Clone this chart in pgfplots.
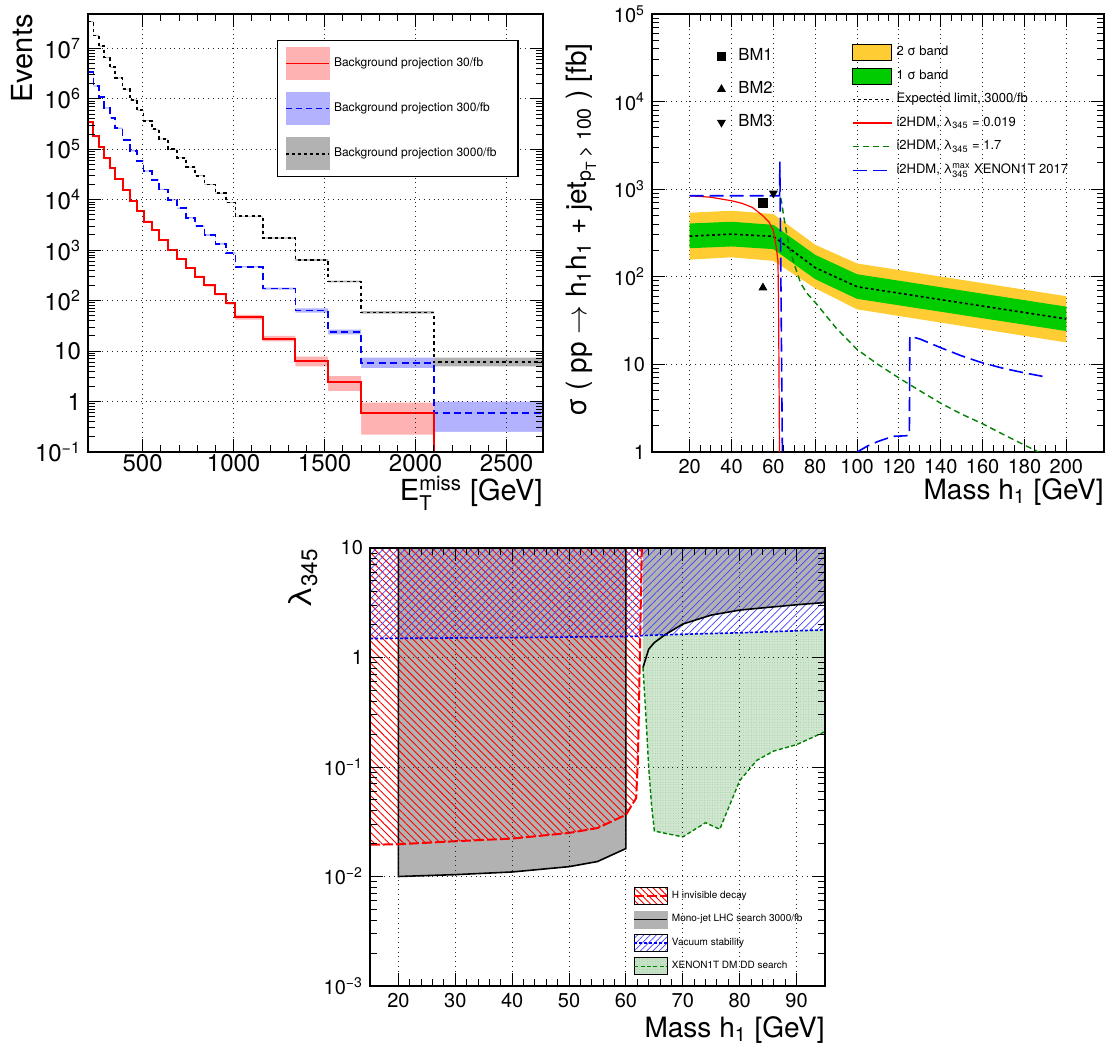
\documentclass[border=0pt]{standalone}
\usepackage{amsmath}
\usepackage{fontspec}
\setmainfont{TeX Gyre Heros}
\usepackage{pgfplots}
\usepackage{pgfplotstable}
\pgfplotsset{compat=1.18}
\usetikzlibrary{patterns,patterns.meta}

\definecolor{rootred}{RGB}{255,0,0}
\definecolor{rootblue}{RGB}{0,0,255}
\definecolor{bandred}{RGB}{255,178,178}
\definecolor{bandblue}{RGB}{178,178,255}
\definecolor{bandgray}{RGB}{178,178,178}
\definecolor{yellowband}{RGB}{255,204,51}
\definecolor{greenband}{RGB}{0,204,0}
\definecolor{darkgreen}{RGB}{0,128,0}
\definecolor{xegreen}{RGB}{200,226,200}
\definecolor{monogray}{RGB}{178,178,178}

% ---- top-left histograms: bin low edge, value, band low, band high
\pgfplotstableread{
x y lo hi
200 340000 326000 354000
230 180000 172800 187200
260 110000 105600 114400
290 66000 63400 68600
320 42000 40300 43700
350 26000 25000 27000
390 15500 14900 16100
430 9400 9020 9780
470 5900 5660 6140
505 3700 3550 3850
550 2500 2400 2600
590 1600 1536 1664
640 1000 960 1040
690 680 653 707
740 440 422 458
790 300 288 312
840 200 190 210
900 134 127 141
960 88 83 93
1010 47 42 52
1160 17.4 15.5 20
1340 6.4 5.0 7.8
1520 2.4 1.6 3.2
1700 0.58 0.22 0.95
2100 0.1 0.02 0.05
2700 0.1 0.02 0.05
}\redtab
\pgfplotstableread{
x y lo hi
200 3400000 3300000 3500000
230 1800000 1750000 1850000
260 1100000 1070000 1130000
290 660000 640000 680000
320 420000 408000 432000
350 260000 252000 268000
390 155000 150000 160000
430 94000 91000 97000
470 59000 57200 60800
505 37000 35900 38100
550 25000 24200 25800
590 16000 15500 16500
640 10000 9700 10300
690 6800 6600 7000
740 4400 4270 4530
790 3000 2910 3090
840 2000 1930 2070
900 1340 1290 1390
960 880 846 914
1010 470 455 485
1160 174 166 182
1340 64 58 70
1520 24 21.5 26.5
1700 5.9 4.6 7.4
2100 0.6 0.25 1.0
2700 0.6 0.25 1.0
}\bluetab
\pgfplotstableread{
x y lo hi
200 34000000 33300000 34700000
230 18000000 17600000 18400000
260 11000000 10800000 11200000
290 6600000 6470000 6730000
320 4200000 4120000 4280000
350 2600000 2550000 2650000
390 1550000 1520000 1580000
430 940000 920000 960000
470 590000 578000 602000
505 370000 363000 377000
550 250000 245000 255000
590 160000 157000 163000
640 100000 98000 102000
690 68000 66600 69400
740 44000 43100 44900
790 30000 29400 30600
840 20000 19600 20400
900 13400 13100 13700
960 8800 8600 9000
1010 4700 4600 4800
1160 1740 1690 1790
1340 640 617 663
1520 240 230 250
1700 58 55 62
2100 6.0 5.0 7.4
2700 6.0 5.0 7.4
}\blacktab

% ---- top-right expected limit
\pgfplotstableread{
x exp
20 291
40 307
60 289
80 127
100 77
200 33
}\exptab

\pgfplotsset{rootaxis/.style={
  scale only axis,
  axis line style={line width=0.7pt},
  every tick/.style={black, line width=0.5pt},
  major tick length=6.5pt, minor tick length=3.5pt,
  tick align=inside, xtick pos=both, ytick pos=both,
  xmajorgrids, ymajorgrids,
  major grid style={dotted, line width=0.5pt, black!85},
  /pgf/number format/assume math mode=true,
  /pgf/number format/1000 sep={},
  log origin y=infty,
}}

\begin{document}
\begin{tikzpicture}
\useasboundingbox (0,0) rectangle (556.5pt,525pt);

% =================== TOP LEFT ===================
\begin{axis}[rootaxis, axis on top,
  at={(44pt,299pt)}, anchor=south west, width=227.5pt, height=219pt,
  xmin=200, xmax=2700, ymode=log, ymin=0.1, ymax=4.8e7,
  xtick={500,1000,1500,2000,2500},
  xticklabels={500,1000,1500,2000,2500},
  minor x tick num=4,
  ytick={0.1,1,10,100,1000,10000,100000,1000000,10000000},
  yticklabels={10\textsuperscript{−1},1,10,10\textsuperscript{2},10\textsuperscript{3},10\textsuperscript{4},10\textsuperscript{5},10\textsuperscript{6},10\textsuperscript{7}},
  tick label style={font=\fontsize{12}{14}\selectfont},
  xticklabel style={yshift=2.5pt},
  xlabel={E$^{\text{miss}}_{\text{T}}$ [GeV]}, ylabel={Events},
  label style={font=\fontsize{14.5}{17}\selectfont, inner sep=0pt},
  xlabel style={at={(rel axis cs:1,-0.094)}, anchor=east},
  ylabel style={at={(rel axis cs:-0.145,1)}, anchor=east},
  legend style={at={(rel axis cs:0.415,0.94)}, anchor=north west, draw=black,
    line width=0.6pt, fill=white, font=\fontsize{6}{7}\selectfont,
    inner xsep=4pt, inner ysep=3pt, row sep=6pt},
  legend cell align=left,
]
% bands: fill up to the band top, then blank out below the band bottom
\addplot[const plot, fill=bandgray, draw=none, forget plot] table[x=x,y=hi]{\blacktab} \closedcycle;
\addplot[const plot, fill=white, draw=none, forget plot] table[x=x,y=lo]{\blacktab} \closedcycle;
\addplot[const plot, fill=bandblue, draw=none, forget plot] table[x=x,y=hi]{\bluetab} \closedcycle;
\addplot[const plot, fill=white, draw=none, forget plot] table[x=x,y=lo]{\bluetab} \closedcycle;
\addplot[const plot, fill=bandred, draw=none, forget plot] table[x=x,y=hi]{\redtab} \closedcycle;
\addplot[const plot, fill=white, draw=none, forget plot] table[x=x,y=lo]{\redtab} \closedcycle;
% lines
\addplot[const plot, black, line width=0.9pt, dash pattern=on 1.6pt off 1.6pt, forget plot] table[x=x,y=y]{\blacktab};
\addplot[const plot, rootblue, line width=0.9pt, dash pattern=on 3.5pt off 2.2pt, forget plot] table[x=x,y=y]{\bluetab};
\addplot[const plot, rootred, line width=1pt, forget plot] table[x=x,y=y]{\redtab};
% legend
\addlegendimage{legend image code/.code={\fill[bandred] (0pt,-8pt) rectangle (21.5pt,8pt); \draw[rootred, line width=0.8pt] (0pt,0pt) -- (21.5pt,0pt);}}
\addlegendentry{\makebox[86pt][l]{Background projection 30/fb}}
\addlegendimage{legend image code/.code={\fill[bandblue] (0pt,-8pt) rectangle (21.5pt,8pt); \draw[rootblue, line width=0.8pt, dash pattern=on 3pt off 2pt] (0pt,0pt) -- (21.5pt,0pt);}}
\addlegendentry{\makebox[86pt][l]{Background projection 300/fb}}
\addlegendimage{legend image code/.code={\fill[bandgray] (0pt,-8pt) rectangle (21.5pt,8pt); \draw[black, line width=0.8pt, dash pattern=on 1.5pt off 1.5pt] (0pt,0pt) -- (21.5pt,0pt);}}
\addlegendentry{\makebox[86pt][l]{Background projection 3000/fb}}
\end{axis}

% =================== TOP RIGHT ===================
\begin{axis}[rootaxis,
  at={(326pt,299pt)}, anchor=south west, width=226pt, height=219pt,
  xmin=2, xmax=218, ymode=log, ymin=1, ymax=1e5,
  xtick={20,40,60,80,100,120,140,160,180,200},
  minor x tick num=3,
  ytick={1,10,100,1000,10000,100000},
  yticklabels={1,10,10\textsuperscript{2},10\textsuperscript{3},10\textsuperscript{4},10\textsuperscript{5}},
  tick label style={font=\fontsize{10}{12}\selectfont},
  xlabel={Mass h\textsubscript{1} [GeV]},
  ylabel={σ ( pp \ensuremath{\rightarrow} h\textsubscript{1}h\textsubscript{1} + jet$_{\text{p}_{\text{T}}\,\text{> 100}}$ ) [fb]},
  label style={font=\fontsize{14}{17}\selectfont, inner sep=0pt},
  xlabel style={at={(rel axis cs:1,-0.091)}, anchor=east},
  ylabel style={at={(rel axis cs:-0.157,0.934)}, anchor=east},
  legend style={at={(rel axis cs:0.441,0.936)}, anchor=north west, draw=none,
    fill=none, font=\fontsize{6.5}{7.5}\selectfont, row sep=1.5pt, inner sep=0pt},
  legend cell align=left,
]
% 2 sigma band (upper edge, then lower edge back)
\addplot[fill=yellowband, draw=none, forget plot] coordinates {
(20,538) (40,568) (60,520) (80,232) (100,142) (200,60)
(200,17.8) (100,42.5) (80,74) (60,152) (40,167) (20,157)};
% 1 sigma band
\addplot[fill=greenband, draw=none, forget plot] coordinates {
(20,406) (40,425) (60,392) (80,178) (100,107) (200,45.6)
(200,24) (100,56) (80,94) (60,207) (40,222) (20,212)};
\addplot[black, line width=0.8pt, dash pattern=on 1.4pt off 1.4pt, forget plot] table[x=x,y=exp]{\exptab};
% i2HDM lambda=1.7
\addplot[darkgreen, line width=0.7pt, dash pattern=on 3pt off 2pt, forget plot] coordinates {
(63.5,800) (64,700) (65,480) (66.4,310) (68,200) (70,139) (73,85) (76,65) (80,51)
(90,26) (100,14.8) (110,10) (120,7.0) (130,5.0) (140,3.6) (150,2.7) (160,2.1)
(170,1.58) (180,1.2) (190,0.91) (200,0.72)};
% i2HDM lambda=0.019
\addplot[rootred, line width=0.6pt, forget plot] coordinates {
(20,842) (30,810) (40,738) (45,690) (50,619) (55,497) (58,420) (60,335) (61.4,216)
(62.2,151) (62.5,40) (62.8,3) (63,0.5)};
% XENON1T max
\addplot[rootblue, line width=0.8pt, dash pattern=on 7pt off 3pt, forget plot] coordinates {
(20,842) (63,842) (63.1,2060) (64.3,1) (64.4,0.5)};
\addplot[rootblue, line width=0.8pt, dash pattern=on 7pt off 3pt, forget plot] coordinates {
(100,1.0) (105,1.17) (110,1.32) (115,1.45) (117,1.51) (123,1.53) (125,1.55) (125.2,21)
(130,19.5) (140,15.5) (150,12.5) (160,10.4) (170,9.0) (180,8.0) (190,7.2)};
% legend
\addlegendimage{legend image code/.code={\fill[yellowband, draw=black, line width=0.5pt] (0pt,-4pt) rectangle (19.6pt,4pt);}}
\addlegendentry{2 σ band}
\addlegendimage{legend image code/.code={\fill[greenband, draw=black, line width=0.5pt] (0pt,-4pt) rectangle (19.6pt,4pt);}}
\addlegendentry{1 σ band}
\addlegendimage{legend image code/.code={\path[draw=none, fill=none] (0pt,-4pt) rectangle (19.6pt,4pt); \draw[black, line width=0.8pt, dash pattern=on 1.4pt off 1.4pt] (0pt,0pt) -- (19.6pt,0pt);}}
\addlegendentry{Expected limit, 3000/fb}
\addlegendimage{legend image code/.code={\path[draw=none, fill=none] (0pt,-4pt) rectangle (19.6pt,4pt); \draw[rootred, line width=0.7pt] (0pt,0pt) -- (19.6pt,0pt);}}
\addlegendentry{i2HDM, λ$_{\text{345}}$ = 0.019}
\addlegendimage{legend image code/.code={\path[draw=none, fill=none] (0pt,-4pt) rectangle (19.6pt,4pt); \draw[darkgreen, line width=0.7pt, dash pattern=on 3pt off 2pt] (0pt,0pt) -- (19.6pt,0pt);}}
\addlegendentry{i2HDM, λ$_{\text{345}}$ = 1.7}
\addlegendimage{legend image code/.code={\path[draw=none, fill=none] (0pt,-4pt) rectangle (19.6pt,4pt); \draw[rootblue, line width=0.8pt, dash pattern=on 7pt off 3pt] (0pt,0pt) -- (19.6pt,0pt);}}
\addlegendentry{i2HDM, λ$^{\text{max}}_{\text{345}}$ XENON1T 2017}
\end{axis}

% BM points with their own legend
\begin{axis}[
  at={(326pt,299pt)}, anchor=south west, width=226pt, height=219pt, scale only axis,
  xmin=2, xmax=218, ymode=log, ymin=1, ymax=1e5, hide axis,
  legend style={at={(rel axis cs:0.124,0.94)}, anchor=north west, draw=none,
    fill=none, font=\fontsize{8.3}{10}\selectfont, row sep=5pt},
  legend cell align=left,
  legend image code/.code={\path[draw=none, fill=none] (0pt,0pt) -- (10pt,0pt); \draw plot coordinates {(3.5pt,0pt)};},
]
\addplot[only marks, black, mark=square*, mark size=2.1pt] coordinates {(55,700)};
\addlegendentry{BM1}
\addplot[only marks, black, mark=triangle*, mark size=2.2pt] coordinates {(55,75)};
\addlegendentry{BM2}
\addplot[only marks, black, mark=triangle*, mark size=2.2pt, mark options={rotate=180}] coordinates {(60,900)};
\addlegendentry{BM3}
\end{axis}

% =================== BOTTOM ===================
\begin{axis}[rootaxis, axis on top,
  at={(185pt,32pt)}, anchor=south west, width=227.5pt, height=219pt,
  xmin=15, xmax=95, ymode=log, ymin=1e-3, ymax=10,
  xtick={20,30,40,50,60,70,80,90},
  minor x tick num=4,
  ytick={0.001,0.01,0.1,1,10},
  yticklabels={10\textsuperscript{−3},10\textsuperscript{−2},10\textsuperscript{−1},1,10},
  tick label style={font=\fontsize{10}{12}\selectfont},
  xlabel={Mass h\textsubscript{1} [GeV]},
  ylabel={λ\textsubscript{345}},
  label style={font=\fontsize{14}{17}\selectfont, inner sep=0pt},
  ylabel style={font=\fontsize{16}{18}\selectfont, at={(rel axis cs:-0.147,1)}, anchor=east},
  xlabel style={at={(rel axis cs:1,-0.1)}, anchor=east},
  legend style={at={(rel axis cs:0.578,0.227)}, anchor=north west, draw=none,
    fill=none, font=\fontsize{5}{6}\selectfont, row sep=2.5pt, inner sep=0pt},
  legend cell align=left,
]
% mono-jet gray regions
\addplot[fill=monogray, draw=none, forget plot] coordinates {
(20,10) (20,0.01) (30,0.0104) (40,0.011) (50,0.0123) (55,0.0137) (60,0.018) (60,10)};
\addplot[fill=monogray, draw=none, forget plot] coordinates {
(63,10) (63,0.81) (64,1.19) (65,1.37) (67,1.63) (70,2.02) (75,2.44) (80,2.71) (85,2.87) (90,3.03) (95,3.18) (95,10)};
% XENON1T region
\addplot[fill=xegreen, draw=none, fill opacity=0.85, forget plot] coordinates {
(63,1.59) (63,0.81) (63.5,0.3) (64,0.1) (64.5,0.045) (65,0.026) (70,0.023) (74,0.031) (76.5,0.027)
(80,0.075) (83,0.115) (86,0.14) (90,0.16) (95,0.21) (95,1.79) (80,1.68) (70,1.63) (64,1.6)};
\addplot[pattern={Dots[distance=1.3pt, radius=0.22pt]}, pattern color=darkgreen!45, draw=none, forget plot] coordinates {
(63,1.59) (63,0.81) (63.5,0.3) (64,0.1) (64.5,0.045) (65,0.026) (70,0.023) (74,0.031) (76.5,0.027)
(80,0.075) (83,0.115) (86,0.14) (90,0.16) (95,0.21) (95,1.79) (80,1.68) (70,1.63) (64,1.6)};
% H invisible red hatch
\addplot[pattern={Lines[angle=-45, distance=2.6pt, line width=0.45pt]}, pattern color=red, draw=none, forget plot] coordinates {
(15,10) (15,0.0195) (20,0.0197) (30,0.021) (40,0.0222) (50,0.025) (55,0.0277) (60,0.0366)
(61.8,0.052) (62.1,0.113) (62.3,0.36) (62.6,2.96) (62.8,10)};
% vacuum stability blue hatch
\addplot[pattern={Lines[angle=45, distance=2.6pt, line width=0.35pt]}, pattern color=blue!75, draw=none, forget plot] coordinates {
(15,10) (15,1.49) (40,1.52) (62,1.56) (63,1.59) (70,1.63) (80,1.68) (95,1.79) (95,10)};
% boundary lines
\addplot[black, line width=0.8pt, forget plot] coordinates {
(20,10) (20,0.01) (30,0.0104) (40,0.011) (50,0.0123) (55,0.0137) (60,0.018) (60,10)};
\addplot[black, line width=0.8pt, forget plot] coordinates {
(63,0.81) (64,1.19) (65,1.37) (67,1.63) (70,2.02) (75,2.44) (80,2.71) (85,2.87) (90,3.03) (95,3.18)};
\addplot[darkgreen, line width=0.7pt, dash pattern=on 2pt off 1.2pt, forget plot] coordinates {
(63,0.81) (63.5,0.3) (64,0.1) (64.5,0.045) (65,0.026) (70,0.023) (74,0.031) (76.5,0.027)
(80,0.075) (83,0.115) (86,0.14) (90,0.16) (95,0.21)};
\addplot[rootblue, line width=0.8pt, dash pattern=on 1.5pt off 1pt, forget plot] coordinates {
(15,1.49) (40,1.52) (62,1.56) (63,1.59) (70,1.63) (80,1.68) (95,1.79)};
\addplot[rootred, line width=1pt, dash pattern=on 5pt off 1.5pt, forget plot] coordinates {
(15,0.0195) (20,0.0197) (30,0.021) (40,0.0222) (50,0.025) (55,0.0277) (60,0.0366)
(61.8,0.052) (62.1,0.113) (62.3,0.36) (62.6,2.96) (62.8,10)};
% legend
\addlegendimage{legend image code/.code={\fill[pattern={Lines[angle=-45, distance=2.2pt, line width=0.45pt]}, pattern color=red] (0pt,-4.25pt) rectangle (16.4pt,4.25pt); \draw[rootred, line width=0.9pt, dash pattern=on 5pt off 1.5pt] (0pt,0pt) -- (16.4pt,0pt);}}
\addlegendentry{H invisible decay}
\addlegendimage{legend image code/.code={\fill[monogray] (0pt,-4.25pt) rectangle (16.4pt,4.25pt); \draw[black, line width=0.7pt] (0pt,0pt) -- (16.4pt,0pt);}}
\addlegendentry{Mono-jet LHC search 3000/fb}
\addlegendimage{legend image code/.code={\fill[pattern={Lines[angle=45, distance=2.2pt, line width=0.35pt]}, pattern color=blue!75] (0pt,-4.25pt) rectangle (16.4pt,4.25pt); \draw[rootblue, line width=0.7pt, dash pattern=on 1.5pt off 1pt] (0pt,0pt) -- (16.4pt,0pt);}}
\addlegendentry{Vacuum stability}
\addlegendimage{legend image code/.code={\fill[xegreen] (0pt,-4.25pt) rectangle (16.4pt,4.25pt); \fill[pattern={Dots[distance=1.3pt, radius=0.22pt]}, pattern color=darkgreen!45] (0pt,-4.25pt) rectangle (16.4pt,4.25pt); \draw[darkgreen, line width=0.7pt, dash pattern=on 2pt off 1.2pt] (0pt,0pt) -- (16.4pt,0pt);}}
\addlegendentry{XENON1T DM DD search}
\end{axis}
\end{tikzpicture}
\end{document}
